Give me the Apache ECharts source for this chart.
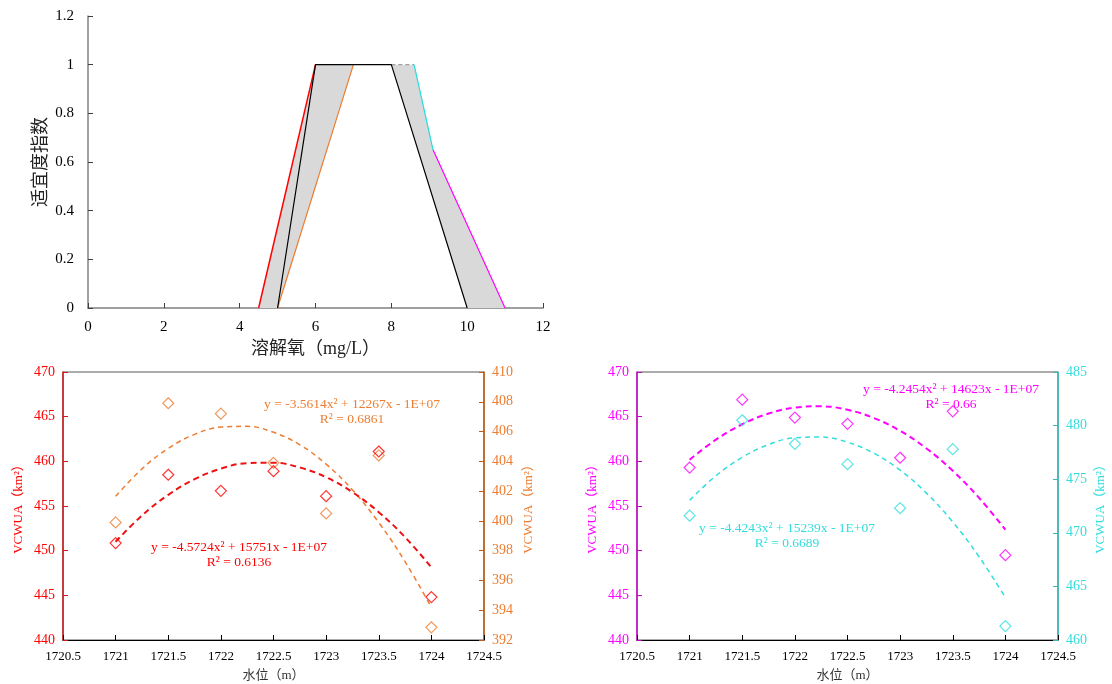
<!DOCTYPE html>
<html>
<head>
<meta charset="utf-8">
<script src="https://cdn.jsdelivr.net/npm/echarts@6/dist/echarts.min.js"></script>
<style>
html,body{margin:0;padding:0;background:#fff;}
#main{width:1112px;height:684px;}
</style>
</head>
<body>
<div id="main"></div>
<script>
// ---- Top chart: suitability curves (溶解氧 vs 适宜度指数)
const redLine = [[4.5, 0], [6, 1]];
const blackLine = [[5, 0], [6, 1], [8, 1], [10, 0]];
const orangeLine = [[5, 0], [7, 1]];
const greyDash = [[8, 1], [8.6, 1]];
const cyanLine = [[8.6, 1], [9.1, 0.65]];
const magentaLine = [[9.1, 0.65], [11, 0]];
const fillLeft = [[4.5, 0], [6, 1], [7, 1], [5, 0]];
const fillRight = [[8, 1], [8.6, 1], [9.1, 0.65], [11, 0], [10, 0]];

// ---- Bottom charts: water level vs VCWUA
const levels = [1721, 1721.5, 1722, 1722.5, 1723, 1723.5, 1724];
const redVals = [450.85, 458.5, 456.7, 458.9, 456.1, 461.1, 444.8];
const orangeVals = [399.9, 407.9, 407.2, 403.9, 400.5, 404.4, 392.85];
const magentaVals = [459.3, 466.9, 464.9, 464.2, 460.4, 465.6, 449.5];
const cyanVals = [471.6, 480.5, 478.3, 476.4, 472.3, 477.8, 461.3];
// trend-line values
const trendLevels = [1721, 1721.25, 1721.5, 1721.75, 1722, 1722.25, 1722.5, 1722.75, 1723, 1723.25, 1723.5, 1723.75, 1724];
const redTrend = [451.0, 453.93, 456.25, 458.0, 459.18, 459.80, 459.84, 459.31, 458.22, 456.55, 454.31, 451.51, 448.13];
const orangeTrend = [401.65, 403.49, 404.87, 405.81, 406.30, 406.35, 405.95, 405.11, 403.81, 402.08, 399.89, 397.26, 394.19];
const magentaTrend = [460.17, 462.43, 464.15, 465.35, 466.01, 466.16, 465.77, 464.85, 463.41, 461.44, 458.94, 455.91, 452.35];
const cyanTrend = [473.03, 475.32, 477.05, 478.23, 478.86, 478.93, 478.45, 477.42, 475.84, 473.70, 471.01, 467.77, 463.97];

const eqRed = ['y = -4.5724x² + 15751x - 1E+07', 'R² = 0.6136'];
const eqOrange = ['y = -3.5614x² + 12267x - 1E+07', 'R² = 0.6861'];
const eqMagenta = ['y = -4.2454x² + 14623x - 1E+07', 'R² = 0.66'];
const eqCyan = ['y = -4.4243x² + 15239x - 1E+07', 'R² = 0.6689'];

const FONT = "'Liberation Serif', 'Times New Roman', 'Noto Sans CJK SC', serif";
const C_RED = '#FF0000', C_ORANGE = '#ED7D31', C_MAG = '#FF00FF', C_CYAN = '#33DDDD';

const zip = (xs, ys) => xs.map((x, i) => [x, ys[i]]);
const noCommas = v => String(v);

const polys = [fillLeft, fillRight];

function bottomX(gi) {
  return {
    type: 'value', gridIndex: gi, min: 1720.5, max: 1724.5, interval: 0.5,
    axisLine: {lineStyle: {color: '#000', width: 1}},
    axisTick: {inside: true, length: 5, lineStyle: {color: '#000'}},
    axisLabel: {color: '#000', fontSize: 13, fontFamily: FONT, margin: 10, formatter: noCommas},
    splitLine: {show: false},
    name: '水位（m）', nameLocation: 'middle', nameGap: 29,
    nameTextStyle: {color: '#333', fontSize: 13, fontFamily: FONT}
  };
}
function bottomY(gi, pos, min, max, interval, lineColor, textColor, gap) {
  return {
    type: 'value', gridIndex: gi, position: pos, min: min, max: max, interval: interval,
    axisLine: {show: true, lineStyle: {color: lineColor, width: 1.5}},
    axisTick: {show: true, inside: true, length: 5, lineStyle: {color: lineColor}},
    axisLabel: {color: textColor, fontSize: 14, fontFamily: FONT, margin: 8, formatter: noCommas},
    splitLine: {show: false},
    name: 'VCWUA（km²）', nameLocation: 'middle', nameGap: gap, nameRotate: 90,
    nameTextStyle: {color: textColor, fontSize: 13, fontFamily: FONT}
  };
}
function scatter(xi, yi, vals, color) {
  return {
    type: 'scatter', xAxisIndex: xi, yAxisIndex: yi, data: zip(levels, vals),
    symbol: 'diamond', symbolSize: [11, 11],
    itemStyle: {color: 'rgba(0,0,0,0)', borderColor: color, borderWidth: 1.2},
    z: 5, silent: true
  };
}
function trend(xi, yi, vals, color, width, dash) {
  return {
    type: 'line', xAxisIndex: xi, yAxisIndex: yi, data: zip(trendLevels, vals),
    smooth: 0.4, showSymbol: false, symbol: 'none',
    lineStyle: {color: color, width: width, type: dash},
    z: 4, silent: true
  };
}
function topLine(data, color, width, type) {
  return {
    type: 'line', xAxisIndex: 0, yAxisIndex: 0, data: data, symbol: 'none',
    lineStyle: {color: color, width: width, type: type || 'solid'}, z: 3, silent: true
  };
}
function eqText(lines, cx, cy, color) {
  return lines.map((t, i) => ({
    type: 'text', x: cx, y: cy + i * 15.5,
    style: {text: t, fill: color, font: '13.5px ' + FONT, textAlign: 'center', textVerticalAlign: 'middle'}
  }));
}

const chart = echarts.init(document.getElementById('main'));
chart.setOption({
  backgroundColor: '#fff',
  animation: false,
  grid: [
    {left: 88, top: 16, width: 455, height: 292},
    {left: 63, top: 372, width: 421, height: 268, show: true, borderColor: '#595959', borderWidth: 1},
    {left: 637, top: 372, width: 421, height: 268, show: true, borderColor: '#595959', borderWidth: 1}
  ],
  xAxis: [
    {
      type: 'value', gridIndex: 0, min: 0, max: 12, interval: 2,
      axisLine: {lineStyle: {color: '#808080', width: 1.5}},
      axisTick: {inside: true, length: 5, lineStyle: {color: '#404040'}},
      axisLabel: {color: '#000', fontSize: 15, fontFamily: FONT, margin: 12},
      splitLine: {show: false},
      name: '溶解氧（mg/L）', nameLocation: 'middle', nameGap: 32,
      nameTextStyle: {color: '#222', fontSize: 18, fontFamily: FONT}
    },
    bottomX(1), bottomX(2)
  ],
  yAxis: [
    {
      type: 'value', gridIndex: 0, min: 0, max: 1.2, interval: 0.2,
      axisLine: {show: true, lineStyle: {color: '#808080', width: 1.5}},
      axisTick: {show: true, inside: true, length: 5, lineStyle: {color: '#404040'}},
      axisLabel: {color: '#000', fontSize: 15, fontFamily: FONT, margin: 14},
      splitLine: {show: false},
      name: '适宜度指数', nameLocation: 'middle', nameGap: 38, nameRotate: 90,
      nameTextStyle: {color: '#222', fontSize: 18, fontFamily: FONT}
    },
    bottomY(1, 'left', 440, 470, 5, '#D01818', C_RED, 38),
    bottomY(1, 'right', 392, 410, 2, '#C55A11', C_ORANGE, 38),
    bottomY(2, 'left', 440, 470, 5, '#CC00CC', C_MAG, 38),
    bottomY(2, 'right', 460, 485, 5, '#33BBBB', C_CYAN, 36)
  ],
  series: [
    {
      type: 'custom', xAxisIndex: 0, yAxisIndex: 0, data: [[0], [1]], z: 1, silent: true,
      renderItem: function (params, api) {
        const pts = polys[api.value(0)].map(p => api.coord(p));
        return {type: 'polygon', shape: {points: pts}, style: {fill: '#D9D9D9', stroke: 'none'}};
      }
    },
    topLine(redLine, C_RED, 1.5),
    topLine(orangeLine, C_ORANGE, 1.2),
    topLine(greyDash, '#A0A0A0', 1.2, [4, 3]),
    topLine(cyanLine, '#22DDDD', 1.2),
    topLine(magentaLine, C_MAG, 1.2),
    topLine(blackLine, '#000', 1.2),

    trend(1, 2, orangeTrend, C_ORANGE, 1.5, [5, 4]),
    trend(1, 1, redTrend, '#EE1111', 2, [6, 4]),
    scatter(1, 2, orangeVals, C_ORANGE),
    scatter(1, 1, redVals, C_RED),

    trend(2, 4, cyanTrend, C_CYAN, 1.5, [5, 4]),
    trend(2, 3, magentaTrend, C_MAG, 2, [6, 4]),
    scatter(2, 4, cyanVals, C_CYAN),
    scatter(2, 3, magentaVals, C_MAG)
  ],
  graphic: [].concat(
    eqText(eqOrange, 352, 404, C_ORANGE),
    eqText(eqRed, 239, 547, C_RED),
    eqText(eqMagenta, 951, 389, C_MAG),
    eqText(eqCyan, 787, 528, C_CYAN)
  )
});
</script>
</body>
</html>
